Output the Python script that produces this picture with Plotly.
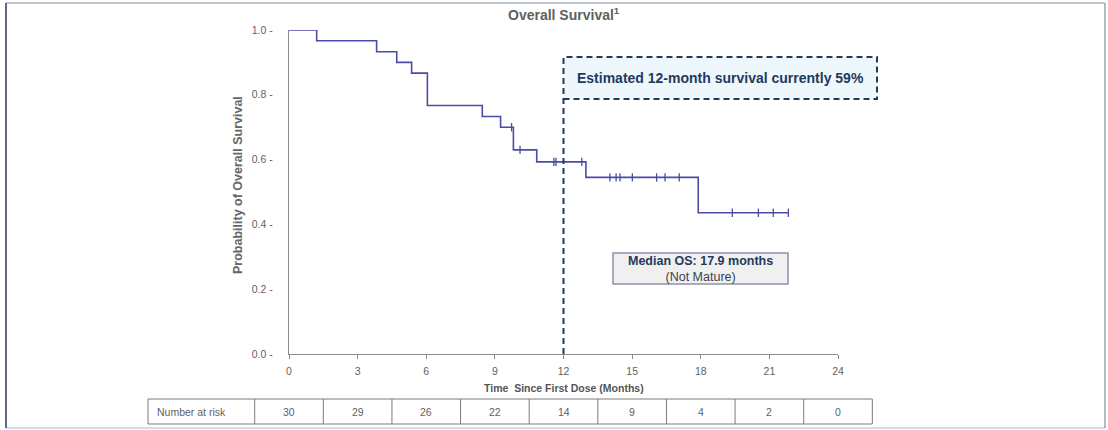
import plotly.graph_objects as go

# ---- data ----
event_times = [0, 1.21, 3.83, 4.71, 5.36, 6.05, 8.45, 9.25, 9.81, 10.83, 12.98, 17.89, 21.83]
event_surv = [1.0, 0.967, 0.933, 0.900, 0.867, 0.767, 0.733, 0.700, 0.630, 0.593, 0.545, 0.436, 0.436]
censor_times = [9.73, 10.10, 11.58, 11.67, 12.80, 14.03, 14.30, 14.47, 15.01, 16.07, 16.44, 17.06,
                19.38, 20.52, 21.17, 21.83]
x_ticks = [0, 3, 6, 9, 12, 15, 18, 21, 24]
y_ticks = [0.0, 0.2, 0.4, 0.6, 0.8, 1.0]
at_risk = [30, 29, 26, 22, 14, 9, 4, 2, 0]
landmark_month = 12
box1_text = "Estimated 12-month survival currently 59%"
box2_line1 = "Median OS: 17.9 months"
box2_line2 = "(Not Mature)"

XRANGE = [0, 24]
YRANGE = [0, 1.0]

W, H = 1108, 430
L, R, T, B = 289, 270, 30, 76
PW = W - L - R
PH = H - T - B


def px_x(p):  # pixel -> paper x
    return (p - L) / PW


def px_y(p):  # pixel -> paper y
    return (H - B - p) / PH


def dx(v):  # data x -> paper x
    return (v - XRANGE[0]) / (XRANGE[1] - XRANGE[0])


def surv_at(t):
    s = event_surv[0]
    for et, es in zip(event_times, event_surv):
        if et <= t:
            s = es
    return s


curve_col = "#4b4ba8"
navy = "#1f3a5c"
gray_txt = "#5f5f5f"
FONT = "Liberation Sans Narrow, Liberation Sans, Arial"
FONT_REG = "Liberation Sans, Arial"

fig = go.Figure()
fig.add_trace(go.Scatter(x=event_times, y=event_surv, mode="lines", line_shape="hv",
                         line=dict(color=curve_col, width=1.6), cliponaxis=False,
                         hoverinfo="skip", showlegend=False))
fig.add_trace(go.Scatter(x=censor_times, y=[surv_at(t) for t in censor_times], mode="markers",
                         marker=dict(symbol="line-ns", size=6, line=dict(color=curve_col, width=1.3)),
                         cliponaxis=False, showlegend=False, hoverinfo="skip"))

shapes = []
box_bottom = px_y(99)
shapes.append(dict(type="line", xref="x", yref="y", x0=landmark_month, x1=landmark_month,
                   y0=0, y1=box_bottom, line=dict(color=navy, width=2, dash="6px,4px")))
shapes.append(dict(type="rect", xref="paper", yref="paper", x0=dx(landmark_month), x1=px_x(877),
                   y0=box_bottom, y1=px_y(57), fillcolor="#edf7fc",
                   line=dict(color=navy, width=2, dash="6px,4px"), layer="below"))
shapes.append(dict(type="rect", xref="paper", yref="paper", x0=px_x(613), x1=px_x(788),
                   y0=px_y(284), y1=px_y(253), fillcolor="#f0f0f0",
                   line=dict(color="#8a93a6", width=1.5), layer="below"))
# number-at-risk table
ty0, ty1 = px_y(424), px_y(399)
step = x_ticks[1] - x_ticks[0]
edges = [dx(x_ticks[0] - step / 2) + i * dx(step) for i in range(len(x_ticks) + 1)]
tleft = px_x(148)
tbl_line = dict(color="#7a7a7a", width=1)
shapes.append(dict(type="rect", xref="paper", yref="paper", x0=tleft, x1=edges[-1],
                   y0=ty0, y1=ty1, line=tbl_line))
for e in edges[:-1]:
    shapes.append(dict(type="line", xref="paper", yref="paper", x0=e, x1=e, y0=ty0, y1=ty1,
                       line=tbl_line))
# outer frame
fx0, fx1, fy0, fy1 = px_x(6), px_x(1105), px_y(428), px_y(3)
shapes.append(dict(type="line", xref="paper", yref="paper", x0=fx0, x1=fx1, y0=fy1, y1=fy1,
                   line=dict(color="#a8b3c2", width=1.5)))
shapes.append(dict(type="line", xref="paper", yref="paper", x0=fx0, x1=fx1, y0=fy0, y1=fy0,
                   line=dict(color="#c3d3df", width=1.5)))
shapes.append(dict(type="line", xref="paper", yref="paper", x0=fx0, x1=fx0, y0=fy0, y1=fy1,
                   line=dict(color="#2c3450", width=1.5)))
shapes.append(dict(type="line", xref="paper", yref="paper", x0=fx1, x1=fx1, y0=fy0, y1=fy1,
                   line=dict(color="#9aa3ad", width=1.5)))

annotations = []


def ann(text, x, y, size, color, family=FONT_REG, xanchor="center", **kw):
    annotations.append(dict(text=text, xref="paper", yref="paper", x=x, y=y, showarrow=False,
                            xanchor=xanchor, yanchor="middle",
                            font=dict(family=family, size=size, color=color), **kw))


ann("<b>Overall Survival<sup>1</sup></b>", dx(12), px_y(14), 14, gray_txt)
ann("<b>" + box1_text + "</b>", (dx(landmark_month) + px_x(877)) / 2, (box_bottom + px_y(57)) / 2,
    14, navy)
ann("<b>" + box2_line1 + "</b><br><span style='color:#3a3f55'>" + box2_line2 + "</span>",
    (px_x(613) + px_x(788)) / 2, (px_y(284) + px_y(253)) / 2, 12.5, navy)
ann("<b>Probability of Overall Survival</b>", px_x(238), px_y(185), 12.5, "#666666", family=FONT,
    textangle=-90)
ann("<b>Time  Since First Dose (Months)</b>", dx(12), px_y(388), 10.5, "#555555", family=FONT)
ymid = (ty0 + ty1) / 2
ann("Number at risk", tleft + 0.012, ymid, 10.5, gray_txt, family=FONT, xanchor="left")
for t, n in zip(x_ticks, at_risk):
    ann(str(n), dx(t), ymid, 10.5, gray_txt, family=FONT)

fig.update_layout(
    width=W, height=H, margin=dict(l=L, r=R, t=T, b=B),
    paper_bgcolor="white", plot_bgcolor="white",
    shapes=shapes, annotations=annotations, showlegend=False,
    xaxis=dict(range=XRANGE, tickvals=x_ticks, ticktext=[str(v) for v in x_ticks],
               showgrid=False, zeroline=False, showline=True, linecolor="#8c8c8c", linewidth=1.2,
               ticks="outside", ticklen=4, tickcolor="#8c8c8c", ticklabelstandoff=3,
               tickfont=dict(family=FONT, size=10.5, color=gray_txt), fixedrange=True),
    yaxis=dict(range=YRANGE, tickvals=y_ticks, ticktext=[f"{v:.1f} -" for v in y_ticks],
               showgrid=False, zeroline=False, showline=True, linecolor="#8c8c8c", linewidth=1.2,
               ticks="", ticklabelstandoff=13,
               tickfont=dict(family=FONT, size=10.5, color=gray_txt), fixedrange=True),
)

fig.write_html("out.html", config={"displayModeBar": False},
               post_script="document.body.style.margin='0';document.body.style.overflow='hidden';")
